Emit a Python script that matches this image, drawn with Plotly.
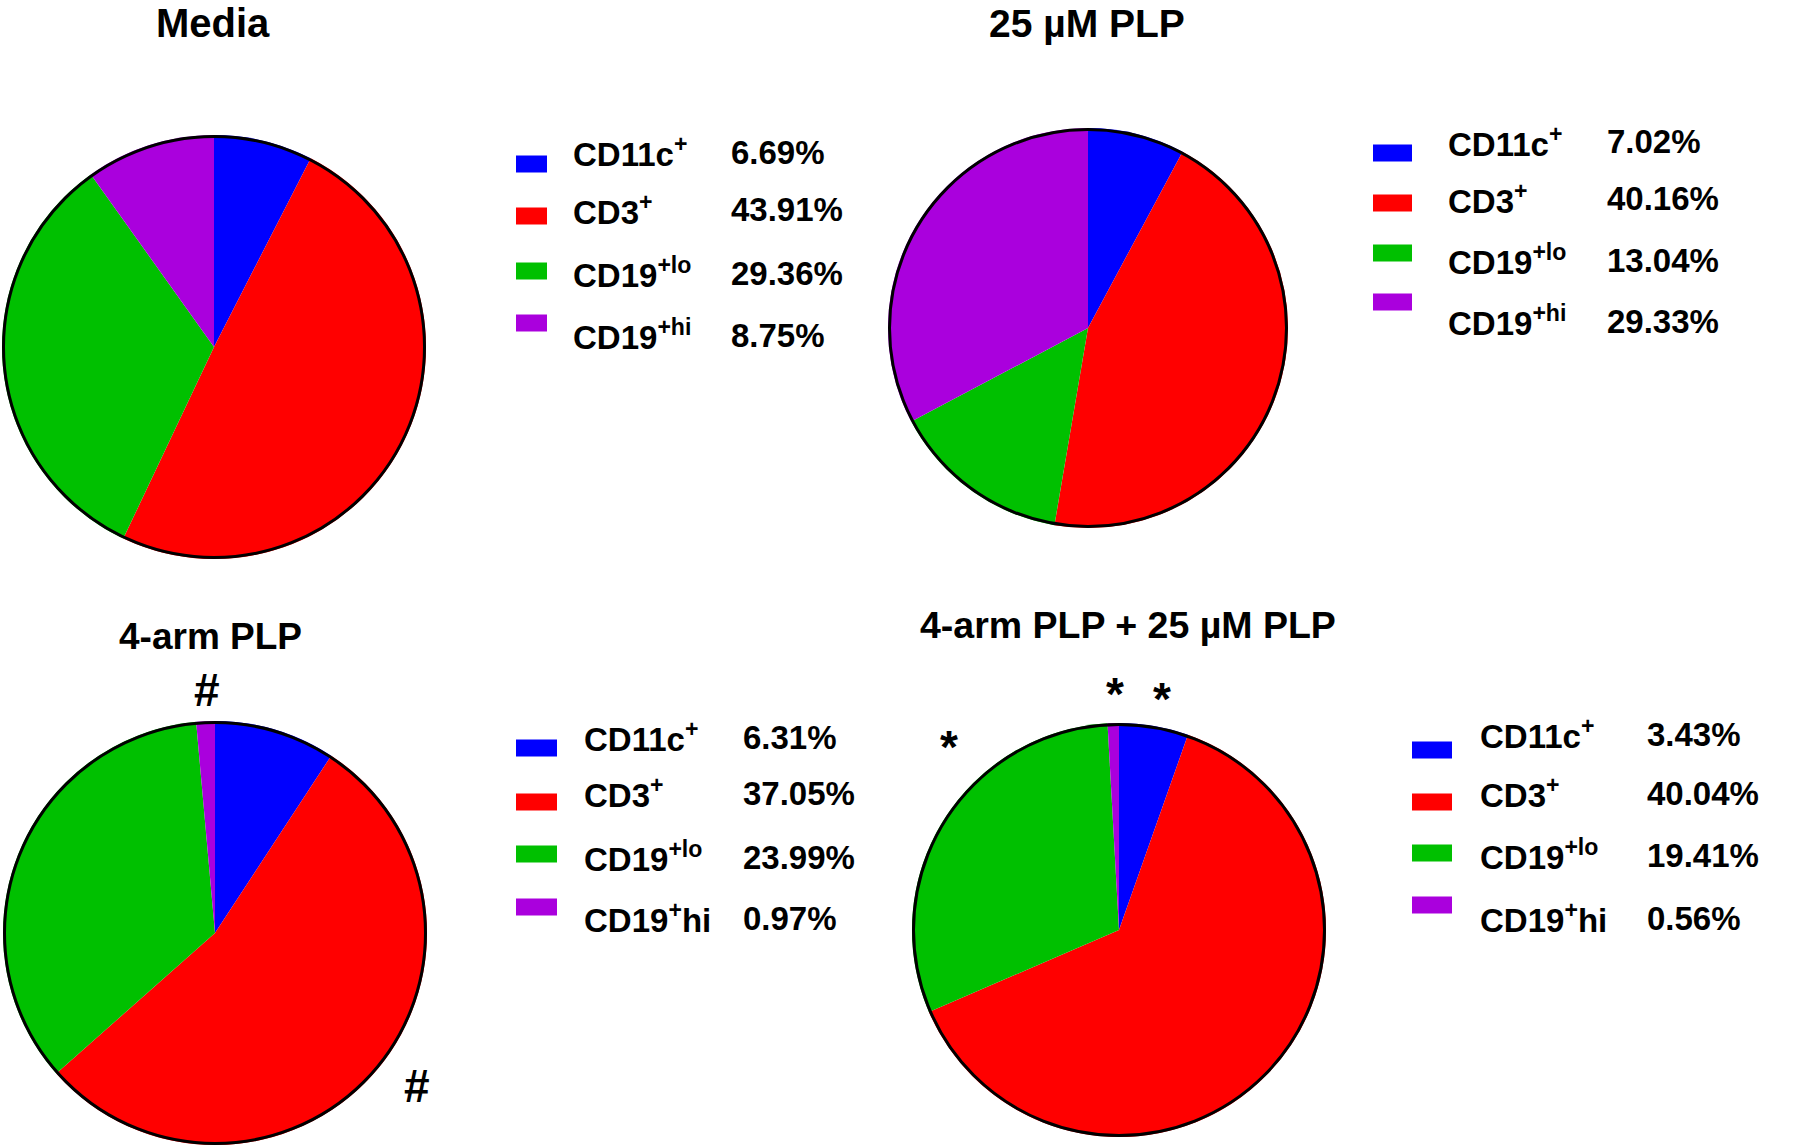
import plotly.graph_objects as go

# ---------------- data ----------------
categories = ["CD11c+", "CD3+", "CD19+lo", "CD19+hi"]
labels_top = ["CD11c<sup>+</sup>", "CD3<sup>+</sup>", "CD19<sup>+lo</sup>", "CD19<sup>+hi</sup>"]
labels_bottom = ["CD11c<sup>+</sup>", "CD3<sup>+</sup>", "CD19<sup>+lo</sup>", "CD19<sup>+</sup>hi"]
colors = ["#0000FF", "#FF0000", "#00C000", "#AA00DD"]

titles = ["Media", "25 µM PLP", "4-arm PLP", "4-arm PLP + 25 µM PLP"]
media = [6.69, 43.91, 29.36, 8.75]
plp25 = [7.02, 40.16, 13.04, 29.33]
arm4 = [6.31, 37.05, 23.99, 0.97]
arm4_plp25 = [3.43, 40.04, 19.41, 0.56]

# ---------------- layout geometry (page pixels) ----------------
W, H = 1800, 1148
FONT = "Liberation Sans, Arial, Helvetica, sans-serif"
LEG_SIZE = 33

panels = [
    dict(values=media, labels=labels_top, title=titles[0], title_xy=(213, 23), title_size=40,
         pie=(214, 347, 212), sw_x=(516, 547), sw_y=[164, 216, 271, 323],
         lab_x=571, val_x=729, txt_y=[152, 210, 273, 335]),
    dict(values=plp25, labels=labels_top, title=titles[1], title_xy=(1087, 23), title_size=39,
         pie=(1088, 328, 200), sw_x=(1373, 1412), sw_y=[153, 203, 253, 302],
         lab_x=1446, val_x=1605, txt_y=[142, 199, 260, 321]),
    dict(values=arm4, labels=labels_bottom, title=titles[2], title_xy=(210, 636), title_size=37,
         pie=(215, 933, 212), sw_x=(516, 557), sw_y=[748, 802, 854, 907],
         lab_x=582, val_x=741, txt_y=[737, 793, 857, 918]),
    dict(values=arm4_plp25, labels=labels_bottom, title=titles[3], title_xy=(1128, 625), title_size=37.5,
         pie=(1119, 930, 207), sw_x=(1412, 1452), sw_y=[750, 802, 853, 905],
         lab_x=1478, val_x=1645, txt_y=[734, 793, 855, 918]),
]

marks = [("#", 207, 690), ("#", 417, 1086), ("*", 1115, 694), ("*", 1162, 699), ("*", 949, 747)]


def px(x):
    return x / W


def py(y):
    return 1 - y / H


fig = go.Figure()
shapes = []
annotations = []

for p in panels:
    cx, cy, r = p["pie"]
    fig.add_trace(go.Pie(
        values=p["values"],
        labels=categories,
        marker=dict(colors=colors, line=dict(width=0)),
        sort=False,
        direction="clockwise",
        rotation=0,
        textinfo="none",
        hoverinfo="label+value",
        showlegend=False,
        domain=dict(x=[px(cx - r), px(cx + r)], y=[py(cy + r), py(cy - r)]),
    ))
    # outer outline circle
    shapes.append(dict(type="circle", xref="paper", yref="paper",
                       x0=px(cx - r + 1.5), x1=px(cx + r - 1.5),
                       y0=py(cy + r - 1.5), y1=py(cy - r + 1.5),
                       line=dict(color="black", width=3), fillcolor="rgba(0,0,0,0)"))
    # title
    tx, ty = p["title_xy"]
    annotations.append(dict(text=p["title"], x=px(tx), y=py(ty), xref="paper", yref="paper",
                            showarrow=False, xanchor="center", yanchor="middle",
                            font=dict(family=FONT, size=p["title_size"], color="black", weight="bold")))
    # legend
    for i, (lab, val) in enumerate(zip(p["labels"], p["values"])):
        sy = p["sw_y"][i]
        shapes.append(dict(type="rect", xref="paper", yref="paper",
                           x0=px(p["sw_x"][0]), x1=px(p["sw_x"][1]),
                           y0=py(sy + 8.5), y1=py(sy - 8.5),
                           line=dict(width=0), fillcolor=colors[i]))
        annotations.append(dict(text=lab, x=px(p["lab_x"]), y=py(p["txt_y"][i]),
                                xref="paper", yref="paper", showarrow=False,
                                xanchor="left", yanchor="middle",
                                font=dict(family=FONT, size=LEG_SIZE, color="black", weight="bold")))
        annotations.append(dict(text=f"{val:.2f}%", x=px(p["val_x"]), y=py(p["txt_y"][i]),
                                xref="paper", yref="paper", showarrow=False,
                                xanchor="left", yanchor="middle",
                                font=dict(family=FONT, size=LEG_SIZE, color="black", weight="bold")))

for sym, mx, my in marks:
    annotations.append(dict(text=sym, x=px(mx), y=py(my), xref="paper", yref="paper",
                            showarrow=False, xanchor="center", yanchor="middle",
                            font=dict(family=FONT, size=46, color="black", weight="bold")))

fig.update_layout(
    width=W, height=H,
    margin=dict(l=0, r=0, t=0, b=0),
    paper_bgcolor="white", plot_bgcolor="white",
    shapes=shapes, annotations=annotations,
)

fig.write_html("out.html",
               config={"displayModeBar": False},
               post_script="document.body.style.margin='0';document.body.style.overflow='hidden';")
